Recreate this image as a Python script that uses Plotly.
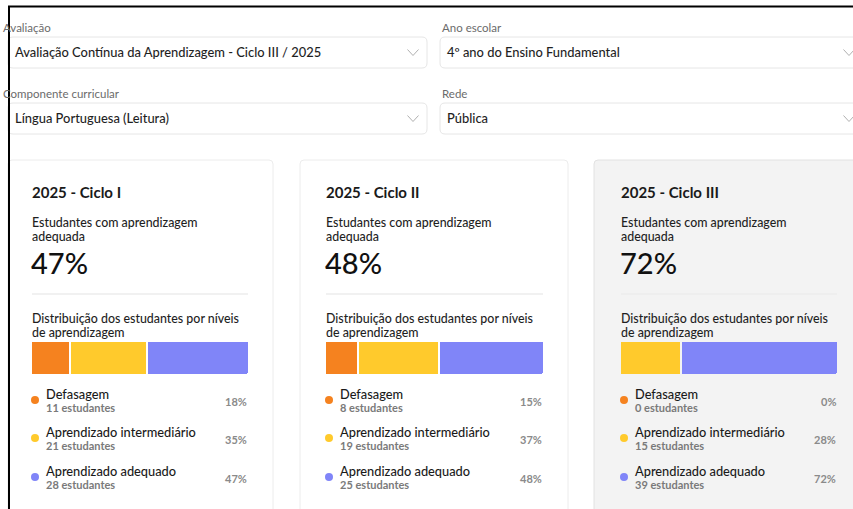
import plotly.graph_objects as go

# Page size in pixels; everything is placed in paper coordinates derived from it.
W, H = 853, 509
FONT = "Lato"

# Filters shown at the top of the dashboard.
filter_labels = ["Avaliação", "Ano escolar", "Componente curricular", "Rede"]
filter_values = [
    "Avaliação Contínua da Aprendizagem - Ciclo III / 2025",
    "4º ano do Ensino Fundamental",
    "Língua Portuguesa (Leitura)",
    "Pública",
]

# One card per assessment cycle.
cycles = ["2025 - Ciclo I", "2025 - Ciclo II", "2025 - Ciclo III"]
levels = ["Defasagem", "Aprendizado intermediário", "Aprendizado adequado"]
defasagem_students = [11, 8, 0]
intermediario_students = [21, 19, 15]
adequado_students = [28, 25, 39]
defasagem_pct = [18, 15, 0]
intermediario_pct = [35, 37, 28]
adequado_pct = [47, 48, 72]

LEVEL_COLORS = ["#f5821f", "#ffca2c", "#8085f8"]
CARD_BG = ["#ffffff", "#ffffff", "#f3f3f3"]
CARD_LINE = ["#ececec", "#ececec", "#e2e2e2"]
DARK = "#1f1f1f"


def fx(x):
    return x / W


def fy(y):
    return 1 - y / H


annotations = []
shapes = []


def text(x, y, s, size, color, weight=400, anchor="left"):
    annotations.append(dict(
        x=fx(x), y=fy(y), xref="paper", yref="paper", text=s,
        showarrow=False, xanchor=anchor, yanchor="middle", borderpad=0,
        align=anchor if anchor != "center" else "center",
        font=dict(family=FONT, size=size, color=color, weight=weight),
    ))


def two_lines(x, y, first, second, pitch, size1, size2, color1, color2, weight=400):
    # plotly spaces lines at 1.3 x the base font size, so the base size sets the pitch
    s = (f"<span style='font-size:{size1}px;color:{color1}'>{first}</span><br>"
         f"<span style='font-size:{size2}px;color:{color2}'>{second}</span>")
    text(x, y, s, pitch / 1.3, color1, weight=weight)


def rounded_rect(x0, y0, x1, y1, r, fill, line, width=1):
    rx, ry = r / W, r / H
    a0, a1, b0, b1 = fx(x0), fx(x1), fy(y1), fy(y0)
    path = (
        f"M{a0 + rx},{b0} L{a1 - rx},{b0} Q{a1},{b0} {a1},{b0 + ry} "
        f"L{a1},{b1 - ry} Q{a1},{b1} {a1 - rx},{b1} "
        f"L{a0 + rx},{b1} Q{a0},{b1} {a0},{b1 - ry} "
        f"L{a0},{b0 + ry} Q{a0},{b0} {a0 + rx},{b0} Z"
    )
    shapes.append(dict(type="path", path=path, xref="paper", yref="paper",
                       fillcolor=fill, line=dict(color=line, width=width),
                       layer="below"))


def chevron(cx, cy):
    path = (f"M{fx(cx - 5.5)},{fy(cy - 3)} L{fx(cx)},{fy(cy + 3)} "
            f"L{fx(cx + 5.5)},{fy(cy - 3)}")
    shapes.append(dict(type="path", path=path, xref="paper", yref="paper",
                       line=dict(color="#b0b0b0", width=1)))


# --- filter dropdowns -------------------------------------------------------
boxes = [(8, 37, 427, 68), (440, 37, 863, 68), (8, 103, 427, 134), (440, 103, 863, 134)]
for label, value, (x0, y0, x1, y1) in zip(filter_labels, filter_values, boxes):
    rounded_rect(x0, y0, x1, y1, 5, "#ffffff", "#e6e6e6")
    text(x0 + (-6 if x0 < 20 else 1), y0 - 9, label, 11.5, "#6b6b6b")
    text(x0 + 6, (y0 + y1) / 2, value, 12.9, DARK, weight=500)
    chevron(x1 - 14, (y0 + y1) / 2)

# --- cards ------------------------------------------------------------------
card_boxes = [(8, 160, 273), (300, 160, 568), (594, 160, 870)]
bar_left = [32, 326, 621]
bar_right = [248, 543, 837]

fig = go.Figure()
students = [defasagem_students, intermediario_students, adequado_students]
pcts = [defasagem_pct, intermediario_pct, adequado_pct]

for i, cycle in enumerate(cycles):
    cx0, cy0, cx1 = card_boxes[i]
    rounded_rect(cx0, cy0, cx1, 540, 4, CARD_BG[i], CARD_LINE[i])
    left, right = bar_left[i], bar_right[i]

    text(left - 1, 192, f"<b>{cycle}</b>", 15, "#1a1a1a")
    two_lines(left - 1, 229, "Estudantes com aprendizagem", "adequada",
              13.5, 12.4, 12.4, DARK, DARK, weight=500)
    text(left - 2, 262, f"{adequado_pct[i]}%", 29, "#111111", weight=500)
    shapes.append(dict(type="line", xref="paper", yref="paper",
                       x0=fx(left), x1=fx(right), y0=fy(294), y1=fy(294),
                       line=dict(color="#ececec", width=1.5)))
    two_lines(left - 1, 325, "Distribuição dos estudantes por níveis", "de aprendizagem",
              13.5, 12.4, 12.4, DARK, DARK, weight=500)

    ax = "" if i == 0 else str(i + 1)
    for j, level in enumerate(levels):
        fig.add_trace(go.Bar(
            x=[pcts[j][i]], y=[0], orientation="h",
            xaxis=f"x{ax}", yaxis=f"y{ax}", width=1,
            marker=dict(color=LEVEL_COLORS[j],
                        line=dict(color=CARD_BG[i], width=2)),
            name=level, showlegend=False,
            hovertemplate=f"{level}: %{{x}}%<extra></extra>",
        ))

    fig.layout[f"xaxis{ax}"] = dict(domain=[fx(left - 1), fx(right + 1)],
                                    range=[0, 100], visible=False,
                                    fixedrange=True, anchor=f"y{ax}")
    fig.layout[f"yaxis{ax}"] = dict(domain=[fy(375), fy(341)],
                                    range=[-0.5, 0.5], visible=False,
                                    fixedrange=True, anchor=f"x{ax}")

    row_y = [400, 438, 477]
    for j, level in enumerate(levels):
        ry = row_y[j]
        dx = left + 3
        shapes.append(dict(type="circle", xref="paper", yref="paper",
                           x0=fx(dx - 4), x1=fx(dx + 4),
                           y0=fy(ry + 4), y1=fy(ry - 4),
                           fillcolor=LEVEL_COLORS[j], line=dict(width=0)))
        two_lines(left + 13, ry, level, f"<b>{students[j][i]} estudantes</b>",
                  13, 12.8, 11, "#1a1a1a", "#7a7a7a", weight=500)
        text(right, ry + 1, f"<b>{pcts[j][i]}%</b>", 11, "#8a8a8a", anchor="right")

# black frame of the screenshot
shapes.append(dict(type="line", xref="paper", yref="paper", x0=fx(8), x1=1,
                   y0=fy(6.5), y1=fy(6.5), line=dict(color="#000000", width=2)))
shapes.append(dict(type="line", xref="paper", yref="paper", x0=fx(9), x1=fx(9),
                   y0=fy(6), y1=0, line=dict(color="#000000", width=2)))

fig.update_layout(
    width=W, height=H, margin=dict(l=0, r=0, t=0, b=0),
    paper_bgcolor="#ffffff", plot_bgcolor="rgba(0,0,0,0)",
    barmode="stack", bargap=0, barcornerradius=3,
    shapes=shapes, annotations=annotations,
)
# the browser's default 8px body margin would shift the figure
fig.write_html("out.html", config={"displayModeBar": False},
               post_script="document.body.style.margin='0';")
